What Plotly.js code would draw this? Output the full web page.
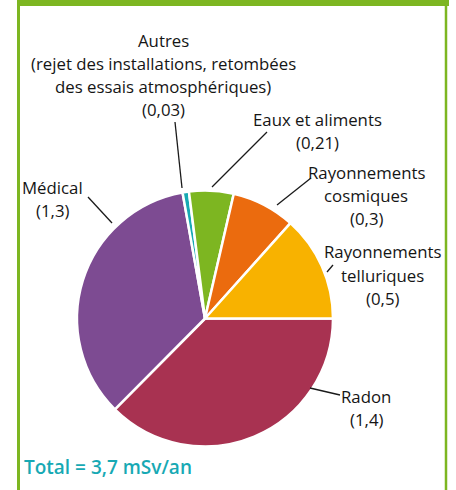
<!DOCTYPE html>
<html>
<head>
<meta charset="utf-8">
<script src="https://cdn.plot.ly/plotly-3.0.1.min.js"></script>
<style>
  html, body { margin: 0; padding: 0; background: #fff; }
  #chart { width: 456px; height: 490px; }
</style>
</head>
<body>
<div id="chart"></div>
<script>
const categories = ['Radon', 'Médical', 'Autres', 'Eaux et aliments', 'Rayonnements cosmiques', 'Rayonnements telluriques'];
const doses = [1.4, 1.3, 0.03, 0.21, 0.3, 0.5];
const labelLines = [
    ['Radon'],
    ['Médical'],
    ['Autres', '(rejet des installations, retombées', 'des essais atmosphériques)'],
    ['Eaux et aliments'],
    ['Rayonnements', 'cosmiques'],
    ['Rayonnements', 'telluriques']
];
const sliceColors = ['#A83251', '#7D4B92', '#16A9B3', '#7DB621', '#EB6B0E', '#F8B200'];
const totalText = 'Total = 3,7 mSv/an';

const W = 456, H = 490;
const px = (x) => x / W;
const py = (y) => 1 - y / H;
const fmt = (v) => '(' + String(v).replace('.', ',') + ')';

// label centres and leader lines, in pixels
const labelPos = [[366, 408], [52, 199], [163, 75], [317, 131], [366, 195], [382, 275]];
const leaders = [
    [[340, 395], [310, 388]],
    [[88, 197], [112, 223]],
    [[175, 122], [182, 188]],
    [[267, 132], [212, 187]],
    [[311, 178], [277, 205]],
    [[333, 265], [327, 272]]
];
const lineGap = 23;

const textFont = {family: '"Open Sans", "Noto Sans", sans-serif', size: 16.8, color: '#151515'};

// one annotation per text line so the line spacing follows the reference
const annotations = [];
categories.forEach((name, i) => {
    const lines = labelLines[i].concat([fmt(doses[i])]);
    const top = labelPos[i][1] - (lines.length - 1) * lineGap / 2;
    lines.forEach((line, k) => {
        annotations.push({
            x: px(labelPos[i][0]),
            y: py(top + k * lineGap),
            xref: 'paper',
            yref: 'paper',
            xanchor: 'center',
            yanchor: 'middle',
            showarrow: false,
            text: line,
            font: textFont
        });
    });
});

annotations.push({
    x: px(22),
    y: py(467),
    xref: 'paper',
    yref: 'paper',
    xanchor: 'left',
    yanchor: 'middle',
    showarrow: false,
    text: totalText,
    font: {family: '"Open Sans", sans-serif', size: 19, color: '#17A9B4', weight: 600}
});

const green = '#7DB621';
const shapes = leaders.map(([a, b]) => ({
    type: 'line', xref: 'paper', yref: 'paper',
    x0: px(a[0]), y0: py(a[1]), x1: px(b[0]), y1: py(b[1]),
    line: {color: '#1a1a1a', width: 1.3}
}));

// green frame
shapes.push(
    {type: 'rect', xref: 'paper', yref: 'paper', x0: px(17), x1: px(449), y0: py(6), y1: py(0),
        fillcolor: green, line: {width: 0}, layer: 'below'},
    {type: 'line', xref: 'paper', yref: 'paper', x0: px(18.5), x1: px(18.5), y0: py(0), y1: py(490),
        line: {color: green, width: 3}},
    {type: 'line', xref: 'paper', yref: 'paper', x0: px(446), x1: px(446), y0: py(0), y1: py(490),
        line: {color: green, width: 2.5}}
);

const trace = {
    type: 'pie',
    values: doses,
    labels: categories,
    sort: false,
    direction: 'clockwise',
    rotation: 90,
    textinfo: 'none',
    hoverinfo: 'none',
    marker: {colors: sliceColors, line: {color: '#ffffff', width: 2.5}},
    domain: {x: [px(77), px(333)], y: [py(447), py(190)]},
    showlegend: false
};

const layout = {
    width: W,
    height: H,
    margin: {l: 0, r: 0, t: 0, b: 0},
    paper_bgcolor: '#ffffff',
    showlegend: false,
    annotations,
    shapes
};

Plotly.newPlot('chart', [trace], layout, {displayModeBar: false, staticPlot: true});
</script>
</body>
</html>
